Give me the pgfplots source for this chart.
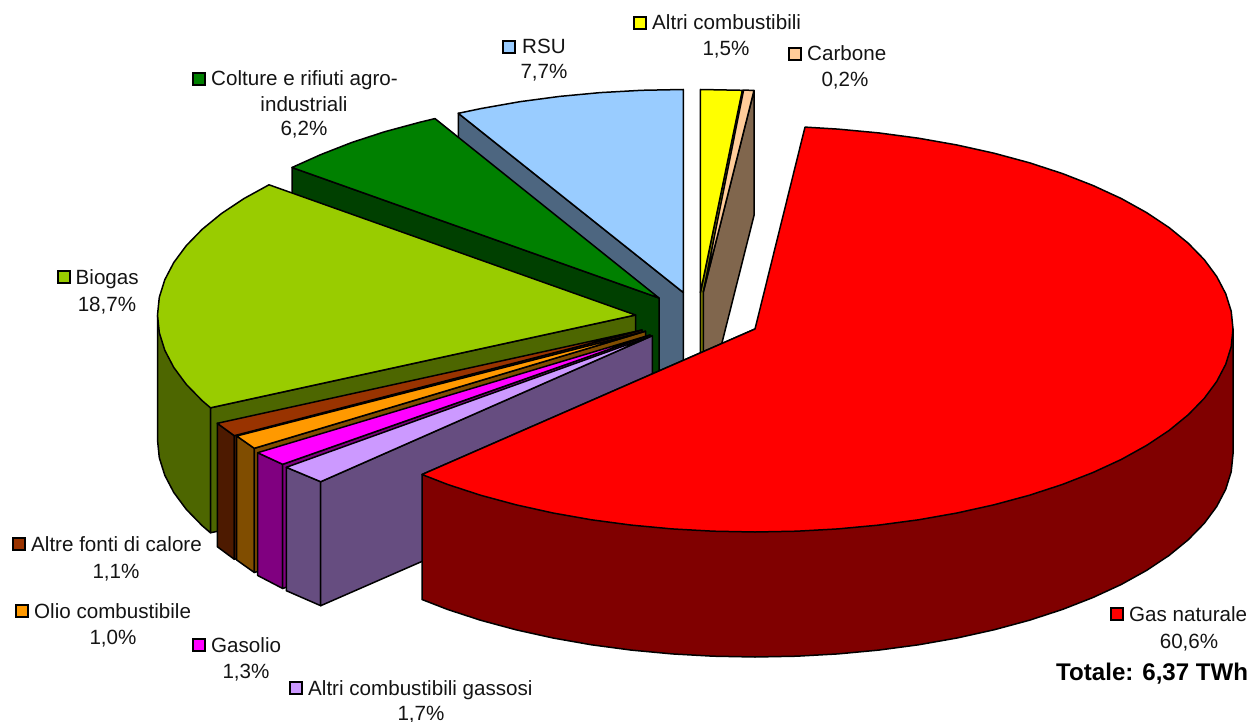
\documentclass[border=0pt]{standalone}
\usepackage{pgfplots}
\pgfplotsset{compat=1.18}
\usepackage{fontspec}
\setmainfont{Liberation Sans}
\definecolor{cRed}{HTML}{FF0000}\definecolor{wRed}{HTML}{800000}
\definecolor{cLil}{HTML}{CC99FF}\definecolor{wLil}{HTML}{664D80}
\definecolor{cMag}{HTML}{FF00FF}\definecolor{wMag}{HTML}{800080}
\definecolor{cOra}{HTML}{FF9900}\definecolor{wOra}{HTML}{804D00}
\definecolor{cBro}{HTML}{993300}\definecolor{wBro}{HTML}{4D1A00}
\definecolor{cBio}{HTML}{99CC00}\definecolor{wBio}{HTML}{4D6600}
\definecolor{cGre}{HTML}{008000}\definecolor{wGre}{HTML}{004000}
\definecolor{cBlu}{HTML}{99CCFF}\definecolor{wBlu}{HTML}{4D6680}
\definecolor{cYel}{HTML}{FFFF00}\definecolor{wYel}{HTML}{808000}
\definecolor{cPea}{HTML}{FFCC99}\definecolor{wPea}{HTML}{80664D}
\pgfplotsset{
  sl/.style={draw=black,line width=1.5pt,line join=round,fill=#1,mark=none},
  key/.style={only marks,mark=square*,mark size=5.9pt,mark options={draw=black,fill=#1,line width=1.5pt}},
}
\newcommand{\lbl}[3]{\node[anchor=base west,inner sep=0pt,font=\fontsize{20.6}{24}\selectfont,text=black!92] at (axis cs:#1,#2) {#3};}
\newcommand{\pct}[3]{\node[anchor=base,inner sep=0pt,font=\fontsize{20.6}{24}\selectfont,text=black!92] at (axis cs:#1,#2) {#3};}
\begin{document}
\begin{tikzpicture}
\path[use as bounding box] (0,0) rectangle (1249pt,722pt);
\begin{axis}[at={(0,0)},anchor=south west,width=1249pt,height=722pt,scale only axis,hide axis,clip=false,
  xmin=0,xmax=1249,ymin=0,ymax=722,y dir=reverse]
% RSU
\addplot[sl=wBlu] coordinates {(683.3,292.5)(458.3,113.3)(458.3,238.3)(683.3,417.5)} --cycle;
\addplot[sl=cBlu] coordinates {(683.3,292.5)(458.3,113.3)(481.3,108.5)(519.8,101.7)(559.6,96.4)(600.3,92.6)(641.6,90.3)(683.3,89.5)} --cycle;
% Colture
\addplot[sl=wGre] coordinates {(659,298)(292,167.5)(292,292.5)(659,423)} --cycle;
\addplot[sl=cGre] coordinates {(659,298)(292,167.5)(321,154.5)(351.7,142.5)(384.8,131.7)(420,122.2)(435,118.6)} --cycle;
% Biogas
\addplot[sl=wBio] coordinates {(157.5,315)(157.5,440)(159.3,457.7)(164.8,475.3)(173.8,492.5)(186.3,509.4)(202.3,525.8)(210.5,532.8)(210.5,407.8)(635.5,315)} --cycle;
\addplot[sl=wBio] coordinates {(210.5,407.8)(210.5,532.8)(635.5,440)(635.5,315)} --cycle;
\addplot[sl=cBio] coordinates {(635.5,315)(269,184.8)(243.9,198.6)(221.5,213.5)(202.3,229.2)(186.3,245.6)(173.8,262.5)(164.8,279.7)(159.3,297.3)(157.5,315)(159.3,332.7)(164.8,350.3)(173.8,367.5)(186.3,384.4)(202.3,400.8)(210.5,407.8)} --cycle;
% Altre fonti di calore
\addplot[sl=wBro] coordinates {(217.3,423.3)(217.3,546.7)(234.3,559.3)(234.3,435.7)} --cycle;
\addplot[sl=wBro] coordinates {(234.3,435.7)(234.3,559.3)(642,454)(642,330)} --cycle;
\addplot[sl=cBro] coordinates {(642,330)(217.3,423.3)(234.3,435.7)} --cycle;
% Olio combustibile
\addplot[sl=wOra] coordinates {(236.7,436)(236.7,560)(254.3,572.5)(254.3,448.3)} --cycle;
\addplot[sl=wOra] coordinates {(254.3,448.3)(254.3,572.5)(645.5,455.2)(645.5,331.2)} --cycle;
\addplot[sl=cOra] coordinates {(645.5,331.2)(236.7,436)(254.3,448.3)} --cycle;
% Gasolio
\addplot[sl=wMag] coordinates {(257.7,452.7)(257.7,575.5)(282.7,588.5)(282.7,464.3)} --cycle;
\addplot[sl=wMag] coordinates {(282.7,464.3)(282.7,588.5)(650,459)(650,335)} --cycle;
\addplot[sl=cMag] coordinates {(650,335)(257.7,452.7)(282.7,464.3)} --cycle;
% Altri combustibili gassosi
\addplot[sl=wLil] coordinates {(286.3,467.3)(286.3,590.7)(320.7,605.7)(320.7,481.7)} --cycle;
\addplot[sl=wLil] coordinates {(320.7,481.7)(320.7,605.7)(652.3,460.7)(652.3,335.7)} --cycle;
\addplot[sl=cLil] coordinates {(652.3,335.7)(286.3,467.3)(320.7,481.7)} --cycle;
% Altri combustibili
\addplot[sl=wYel] coordinates {(700.4,292.5)(742.3,90.3)(742.3,215.3)(700.4,417.5)} --cycle;
\addplot[sl=cYel] coordinates {(700.4,292.5)(700.4,89.5)(742.3,90.3)} --cycle;
% Carbone
\addplot[sl=wPea] coordinates {(703.3,292)(754,90.5)(754,215.5)(703.3,417)} --cycle;
\addplot[sl=cPea] coordinates {(703.3,292)(743.6,90)(754,90.5)} --cycle;
% Gas naturale
\addplot[sl=wRed] coordinates {(1233,329)(1233,454)(1231.2,471.7)(1225.7,489.3)(1216.7,506.5)(1204.2,523.4)(1188.2,539.8)(1169,555.5)(1146.6,570.4)(1121.2,584.5)(1093,597.5)(1062.3,609.5)(1029.2,620.3)(994,629.8)(957,638)(918.5,644.8)(878.7,650.1)(838,653.9)(796.7,656.2)(755,657)(713.3,656.2)(672,653.9)(631.3,650.1)(591.5,644.8)(553,638)(516,629.8)(480.8,620.3)(447.7,609.5)(422,599.5)(422,474.5)(755,329)} --cycle;
\addplot[sl=cRed] coordinates {(755,329)(805,127.1)(838,129.1)(878.7,132.9)(918.5,138.2)(957,145)(994,153.2)(1029.2,162.7)(1062.3,173.5)(1093,185.5)(1121.2,198.5)(1146.6,212.6)(1169,227.5)(1188.2,243.2)(1204.2,259.6)(1216.7,276.5)(1225.7,293.7)(1231.2,311.3)(1233,329)(1231.2,346.7)(1225.7,364.3)(1216.7,381.5)(1204.2,398.4)(1188.2,414.8)(1169,430.5)(1146.6,445.4)(1121.2,459.5)(1093,472.5)(1062.3,484.5)(1029.2,495.3)(994,504.8)(957,513)(918.5,519.8)(878.7,525.1)(838,528.9)(796.7,531.2)(755,532)(713.3,531.2)(672,528.9)(631.3,525.1)(591.5,519.8)(553,513)(516,504.8)(480.8,495.3)(447.7,484.5)(422,474.5)} --cycle;
% Legend keys
\addplot[key=cYel] coordinates {(640,23)};
\addplot[key=cPea] coordinates {(795,54)};
\addplot[key=cBlu] coordinates {(509,47)};
\addplot[key=cGre] coordinates {(199,79)};
\addplot[key=cBio] coordinates {(64,277)};
\addplot[key=cBro] coordinates {(19,544)};
\addplot[key=cOra] coordinates {(22,611)};
\addplot[key=cMag] coordinates {(199,645)};
\addplot[key=cLil] coordinates {(296,688)};
\addplot[key=cRed] coordinates {(1117,614)};
% Labels
\lbl{652}{30}{Altri combustibili}
\pct{726}{56}{1,5\%}
\lbl{807}{61}{Carbone}
\pct{845}{87}{0,2\%}
\lbl{522}{54}{RSU}
\pct{544}{79}{7,7\%}
\lbl{211}{86}{Colture e rifiuti agro-}
\pct{304}{112}{industriali}
\pct{304}{136}{6,2\%}
\lbl{75.5}{284}{Biogas}
\pct{107}{311}{18,7\%}
\lbl{31}{551}{Altre fonti di calore}
\pct{116}{578}{1,1\%}
\lbl{34}{618}{Olio combustibile}
\pct{113}{644}{1,0\%}
\lbl{211}{652}{Gasolio}
\pct{246}{678}{1,3\%}
\lbl{308}{695}{Altri combustibili gassosi}
\pct{421}{720}{1,7\%}
\lbl{1129}{621}{Gas naturale}
\pct{1189}{648}{60,6\%}
\node[anchor=base west,inner sep=0pt,font=\fontsize{24.1}{28}\selectfont\bfseries] at (axis cs:1056,680) {Totale: 6,37 TWh};
\end{axis}
\end{tikzpicture}
\end{document}
